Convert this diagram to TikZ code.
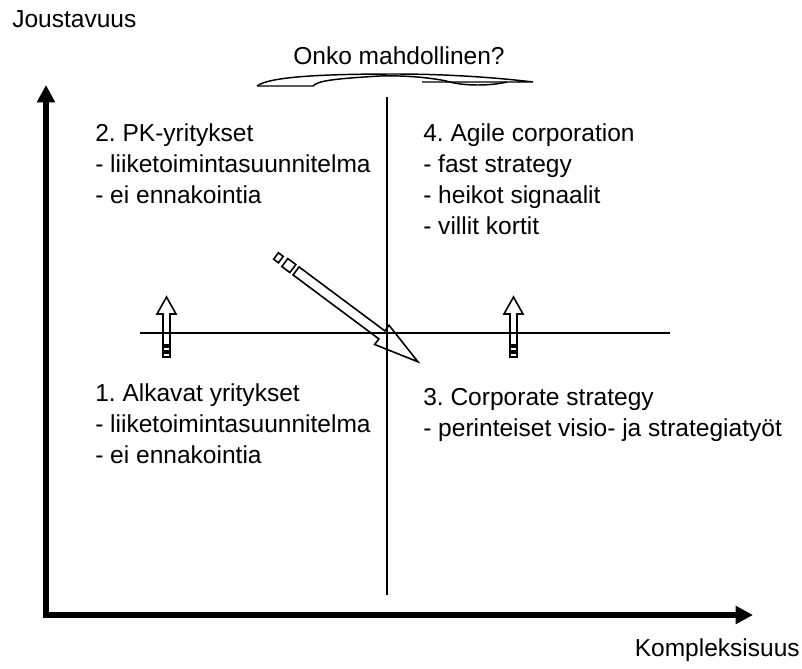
\documentclass[tikz,border=0pt]{standalone}
\usepackage{fontspec}
\setmainfont{Liberation Sans}
\usetikzlibrary{arrows.meta}
\frenchspacing
\begin{document}
\begin{tikzpicture}[x=0.75pt,y=-0.75pt,
  lbl/.style={anchor=base west, inner sep=0pt, font=\fontsize{18.4}{22}\selectfont},
  axis/.style={line width=4.9pt, line join=miter, {Triangle[width=13pt,length=13pt]}-{Triangle[width=13pt,length=13pt]}},
  quad/.style={line width=1.5pt},
  blk/.style={draw, line width=1.2pt, line join=miter},
  curv/.style={draw, line width=1.1pt},
  uparrow/.pic={
    \draw[blk] (3.5,31) -- (3.5,0) -- (9.5,0) -- (0,-17) -- (-9.5,0) -- (-3.5,0) -- (-3.5,31) -- cycle;
    \draw[blk] (-3.5,33) rectangle (3.5,37);
    \draw[blk] (-3.5,39) rectangle (3.5,43);
  }]
\useasboundingbox (0,0) rectangle (802,668);
% axes
\coordinate (ytop) at (46,85);
\coordinate (orig) at (46,615);
\coordinate (xend) at (753,615);
\draw[axis] (ytop) -- (orig) -- (xend);
% quadrant lines
\coordinate (vt) at (387,97);
\coordinate (vb) at (387,595);
\coordinate (hl) at (140,333);
\coordinate (hr) at (670,333);
\draw[quad] (vt) -- (vb);
\draw[quad] (hl) -- (hr);
% block arrows up
\pic at (166.5,314) {uparrow};
\pic at (513.5,314) {uparrow};
% diagonal striped arrow
\begin{scope}[shift={(272,253)}, rotate=-36.7]
  \draw[blk] (30,-5) -- (137,-5) -- (137,-12) -- (182,0) -- (137,12) -- (137,5) -- (30,5) -- cycle;
  \draw[blk] (16,-5) rectangle (26,5);
  \draw[blk] (5,-4) rectangle (11,4);
\end{scope}
% curved arrow
\draw[curv] (257,86) .. controls (270,76) and (330,74) .. (395,74) .. controls (450,74) and (500,78) .. (533,82) -- (422,82);
\draw[curv] (257,86) -- (313,86) .. controls (318,81) and (330,79) .. (380,76) .. controls (410,75) and (440,79) .. (450,82) .. controls (465,86) and (490,86) .. (507,82);
% labels
\node[lbl] (ylab) at (12,27) {Joustavuus};
\node[lbl, anchor=base east] (xlab) at (800,656) {Kompleksisuus};
\node[lbl, anchor=base] (qlab) at (399,64) {Onko mahdollinen?};
% quadrant 2
\node[lbl] (q2a) at (95,141) {2. PK-yritykset};
\node[lbl] (q2b) at (95,172) {- liiketoimintasuunnitelma};
\node[lbl] (q2c) at (95,203) {- ei ennakointia};
% quadrant 4
\node[lbl] (q4a) at (423,141) {4. Agile corporation};
\node[lbl] (q4b) at (423,172) {- fast strategy};
\node[lbl] (q4c) at (423,203) {- heikot signaalit};
\node[lbl] (q4d) at (423,234) {- villit kortit};
% quadrant 1
\node[lbl] (q1a) at (95,401) {1. Alkavat yritykset};
\node[lbl] (q1b) at (95,432) {- liiketoimintasuunnitelma};
\node[lbl] (q1c) at (95,463) {- ei ennakointia};
% quadrant 3
\node[lbl] (q3a) at (423,405) {3. Corporate strategy};
\node[lbl] (q3b) at (423,436) {- perinteiset visio- ja strategiatyöt};
\end{tikzpicture}
\end{document}
